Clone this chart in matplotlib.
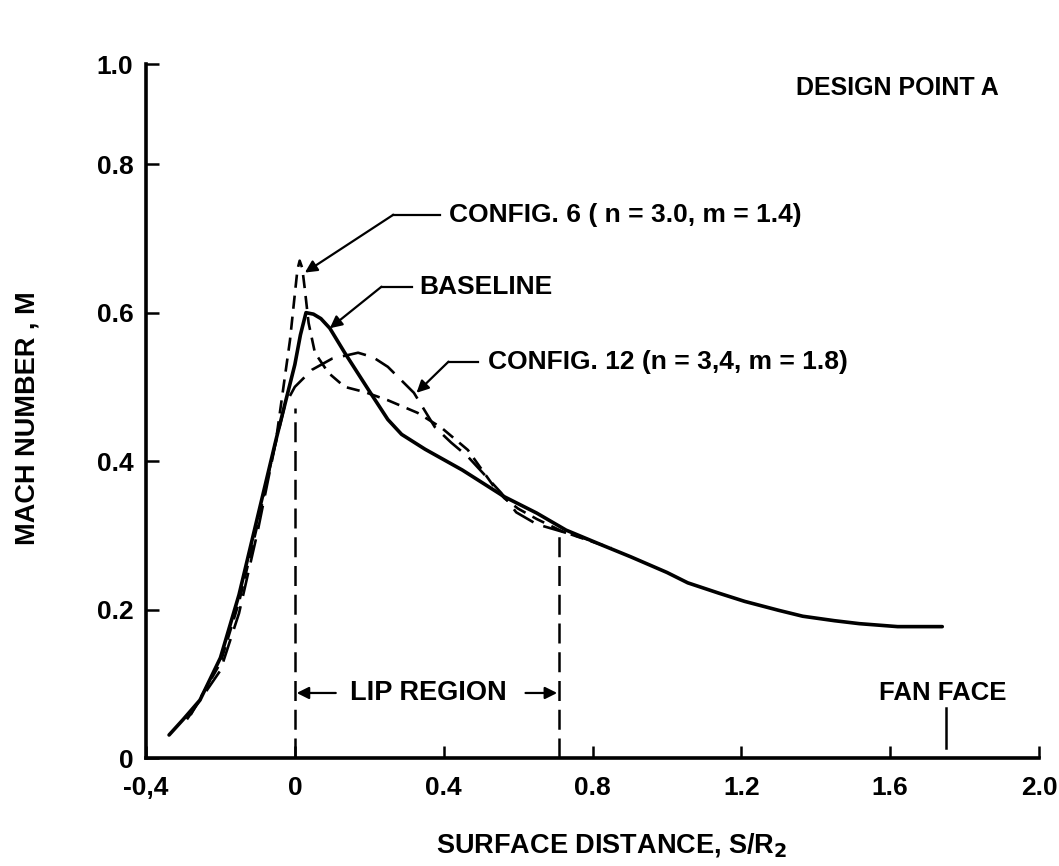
import matplotlib
matplotlib.use("Agg")
import matplotlib.pyplot as plt

plt.rcParams["font.family"] = ["Liberation Sans", "DejaVu Sans"]
plt.rcParams["font.weight"] = "bold"
plt.rcParams["axes.labelweight"] = "bold"

# Surface Mach number distributions, design point A
baseline_x = [-0.338, -0.30, -0.255, -0.20, -0.15, -0.10, -0.05, -0.02, 0.0, 0.015, 0.03,
              0.05, 0.07, 0.094, 0.134, 0.198, 0.25, 0.287, 0.35, 0.45, 0.563, 0.65,
              0.729, 0.82, 0.903, 1.0, 1.056, 1.14, 1.209, 1.30, 1.365, 1.45, 1.517, 1.62, 1.74]
baseline_y = [0.031, 0.052, 0.078, 0.135, 0.22, 0.325, 0.43, 0.49, 0.53, 0.57, 0.600,
              0.598, 0.592, 0.579, 0.546, 0.496, 0.456, 0.436, 0.416, 0.388, 0.352, 0.330,
              0.307, 0.288, 0.271, 0.250, 0.236, 0.222, 0.211, 0.199, 0.191, 0.185, 0.181, 0.177, 0.177]

config6_x = [-0.28, -0.20, -0.15, -0.10, -0.05, -0.013, 0.0, 0.007, 0.013, 0.02, 0.027,
             0.037, 0.054, 0.09, 0.134, 0.188, 0.25, 0.33, 0.394, 0.465, 0.536, 0.563,
             0.60, 0.65, 0.72, 0.79, 0.85]
config6_y = [0.058, 0.128, 0.21, 0.315, 0.43, 0.563, 0.625, 0.658, 0.670, 0.660, 0.631,
             0.586, 0.546, 0.519, 0.500, 0.493, 0.482, 0.465, 0.445, 0.415, 0.365, 0.350,
             0.336, 0.322, 0.305, 0.293, 0.283]

config12_x = [-0.29, -0.20, -0.15, -0.10, -0.054, -0.027, 0.0, 0.046, 0.10, 0.17, 0.21,
              0.25, 0.32, 0.376, 0.42, 0.465, 0.555, 0.595, 0.65, 0.718, 0.79]
config12_y = [0.052, 0.118, 0.195, 0.305, 0.419, 0.475, 0.500, 0.523, 0.538, 0.546, 0.540,
              0.527, 0.492, 0.446, 0.425, 0.406, 0.357, 0.331, 0.315, 0.305, 0.294]

lip_start, lip_end = 0.0, 0.71
lip_top = [0.472, 0.303]
fan_face_x = 1.75

x_ticks = [-0.4, 0.0, 0.4, 0.8, 1.2, 1.6, 2.0]
x_labels = ["-0,4", "0", "0.4", "0.8", "1.2", "1.6", "2.0"]
y_top = 0.935
y_ticks = [0.0, 0.2, 0.4, 0.6, 0.8, y_top]
y_labels = ["0", "0.2", "0.4", "0.6", "0.8", "1.0"]

fig = plt.figure(figsize=(10.59, 8.66), dpi=100)
ax = fig.add_axes([146 / 1059, 108 / 866, 893 / 1059, 694 / 866])
ax.set_xlim(-0.4, 2.0)
ax.set_ylim(0, y_top)

for side in ("top", "right"):
    ax.spines[side].set_visible(False)
for side in ("left", "bottom"):
    ax.spines[side].set_linewidth(2.6)

ax.set_xticks(x_ticks)
ax.set_xticklabels(x_labels)
ax.set_yticks(y_ticks)
ax.set_yticklabels(y_labels)
ax.tick_params(axis="both", direction="in", length=9, width=1.8, labelsize=19)
ax.tick_params(axis="x", pad=13)
ax.tick_params(axis="y", pad=9)

# curves
ax.plot(baseline_x, baseline_y, color="black", lw=2.6, solid_capstyle="round")
ax.plot(config6_x, config6_y, color="black", lw=1.9, dashes=(5, 3))
ax.plot(config12_x, config12_y, color="black", lw=1.9, dashes=(9, 4))

# lip region boundaries and fan face marker
ax.plot([lip_start, lip_start], [0, lip_top[0]], color="black", lw=1.8, dashes=(8, 3.5))
ax.plot([lip_end, lip_end], [0, lip_top[1]], color="black", lw=1.8, dashes=(8, 3.5))
ax.plot([fan_face_x, fan_face_x], [0.013, 0.067], color="black", lw=1.8)

arrow = dict(arrowstyle="-|>", color="black", lw=1.6, mutation_scale=18, shrinkA=0, shrinkB=0)

# labels with leader lines
leaders = [
    ("CONFIG. 6 ( n = 3.0, m = 1.4)", (0.413, 0.732), (0.265, 0.389), (0.027, 0.654)),
    ("BASELINE", (0.335, 0.635), (0.233, 0.314), (0.094, 0.579)),
    ("CONFIG. 12 (n = 3,4, m = 1.8)", (0.52, 0.534), (0.413, 0.493), (0.327, 0.492)),
]
for text, (tx, ty), (k0, k1), tip in leaders:
    ax.text(tx, ty, text, fontsize=19, ha="left", va="center")
    ax.plot([k0, k1], [ty, ty], color="black", lw=1.6)
    ax.annotate("", xy=tip, xytext=(k0, ty), arrowprops=arrow)

ax.text(1.62, 0.903, "DESIGN POINT A", fontsize=18, ha="center", va="center")

ax.text(0.36, 0.0876, "LIP REGION", fontsize=19.5, ha="center", va="center")
ax.annotate("", xy=(0.005, 0.0876), xytext=(0.11, 0.0876), arrowprops=arrow)
ax.annotate("", xy=(0.705, 0.0876), xytext=(0.62, 0.0876), arrowprops=arrow)
ax.text(1.74, 0.0876, "FAN FACE", fontsize=18.5, ha="center", va="center")

ax.set_xlabel("SURFACE DISTANCE, S/R$_\\mathbf{2}$", fontsize=19.5)
ax.xaxis.label.set_va("center")
ax.xaxis.set_label_coords(0.521, -0.126)
ax.set_ylabel("MACH NUMBER , M", fontsize=19.5)
ax.yaxis.label.set_va("center")
ax.yaxis.set_label_coords(-0.133, 0.49)

fig.savefig("out.png", dpi=100)
